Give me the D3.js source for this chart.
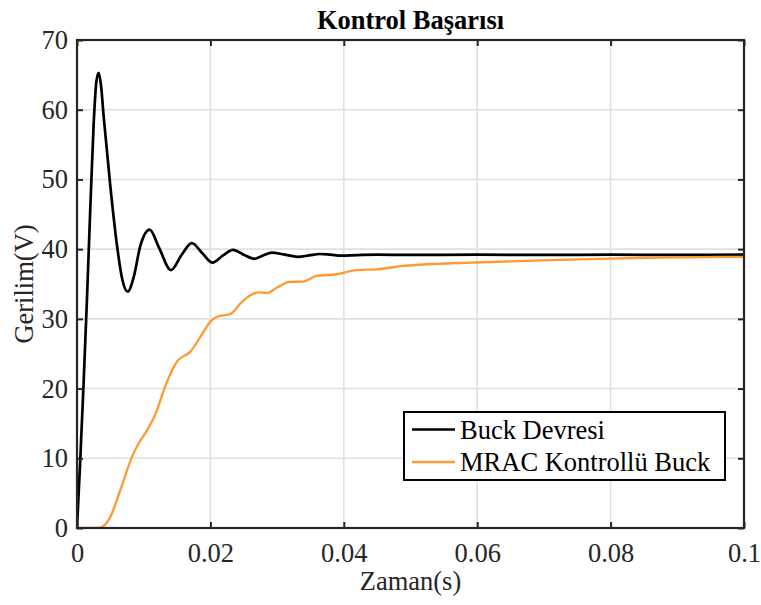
<!DOCTYPE html>
<html>
<head>
<meta charset="utf-8">
<script src="https://cdn.jsdelivr.net/npm/d3@7"></script>
<style>
  html, body { margin: 0; padding: 0; background: #fff; }
  svg { display: block; }
  svg text { font-family: "Liberation Serif", "Times New Roman", serif; }
</style>
</head>
<body>
<svg id="chart" width="761" height="605"></svg>
<script>
// Output voltage of the plain buck converter (time in s, voltage in V)
const buckT = [0, 0.0005, 0.001, 0.0015, 0.002, 0.0025, 0.0029, 0.00325, 0.0036, 0.004, 0.005, 0.006, 0.0068, 0.0076,
  0.0085, 0.0095, 0.0109, 0.0123, 0.0141, 0.0157, 0.0172, 0.0188, 0.0203, 0.0219, 0.0234, 0.025, 0.0266, 0.0279,
  0.0292, 0.031, 0.0331, 0.0348, 0.0364, 0.038, 0.0397, 0.042, 0.045, 0.05, 0.06, 0.07, 0.08, 0.09, 0.1];
const buckV = [0, 10, 21, 33, 46, 58, 64, 65.3, 63.5, 59, 49, 40.5, 35.6, 33.9,
  36, 40.5, 42.8, 40.2, 37.0, 39.2, 40.85, 39.4, 38.06, 39.1, 39.9, 39.2, 38.6, 39.1,
  39.5, 39.25, 38.9, 39.1, 39.3, 39.2, 39.07, 39.15, 39.2, 39.18, 39.2, 39.18, 39.2, 39.18, 39.2];

// Output voltage with the MRAC controller
const mracT = [0, 0.002, 0.0035, 0.004, 0.005, 0.0065, 0.00825, 0.00925, 0.0105, 0.0117, 0.0133, 0.015, 0.017,
  0.0185, 0.02, 0.021, 0.023, 0.0245, 0.026, 0.0272, 0.0285, 0.030, 0.0319, 0.0339, 0.0359, 0.0389, 0.0419,
  0.0449, 0.0489, 0.054, 0.059, 0.065, 0.0724, 0.08, 0.0874, 0.0935, 0.1];
const mracV = [0, 0, 0.05, 0.3, 1.6, 5.45, 10.2, 12.15, 14.0, 16.2, 20.5, 23.9, 25.3,
  27.4, 29.6, 30.3, 30.7, 32.2, 33.4, 33.8, 33.7, 34.5, 35.3, 35.35, 36.15, 36.4, 37.0,
  37.1, 37.6, 37.9, 38.06, 38.25, 38.45, 38.65, 38.8, 38.86, 38.9];

const xTicks = [0, 0.02, 0.04, 0.06, 0.08, 0.1];
const yTicks = [0, 10, 20, 30, 40, 50, 60, 70];

const seriesNames = ["Buck Devresi", "MRAC Kontrollü Buck"];
const seriesColors = ["#000000", "#ff9933"];

const FONT = "Liberation Serif";
const FS = 26.5;
const margin = { left: 77, top: 40, right: 761 - 744, bottom: 605 - 528 };
const W = 761, H = 605;
const svg = d3.select("#chart");

const x = d3.scaleLinear().domain([0, 0.1]).range([margin.left, W - margin.right]);
const y = d3.scaleLinear().domain([0, 70]).range([H - margin.bottom, margin.top]);

// Grid
const grid = svg.append("g").attr("stroke", "#e0e0e0").attr("stroke-width", 1.6);
grid.selectAll(".gx").data(xTicks.slice(1, -1)).join("line")
  .attr("x1", d => x(d)).attr("x2", d => x(d))
  .attr("y1", y(0)).attr("y2", y(70));
grid.selectAll(".gy").data(yTicks.slice(1, -1)).join("line")
  .attr("x1", x(0)).attr("x2", x(0.1))
  .attr("y1", d => y(d)).attr("y2", d => y(d));

// Lines
svg.append("clipPath").attr("id", "plotclip").append("rect")
  .attr("x", x(0)).attr("y", y(70)).attr("width", x(0.1) - x(0)).attr("height", y(0) - y(70));

const line = d3.line().x(d => x(d[0])).y(d => y(d[1])).curve(d3.curveMonotoneX);
const mracData = mracT.map((t, i) => [t, mracV[i]]);
const buckData = buckT.map((t, i) => [t, buckV[i]]);

const lines = svg.append("g").attr("clip-path", "url(#plotclip)").attr("fill", "none")
  .attr("stroke-linejoin", "round").attr("stroke-linecap", "round");
lines.append("path").datum(buckData).attr("d", line)
  .attr("stroke", seriesColors[0]).attr("stroke-width", 2.7);
lines.append("path").datum(mracData).attr("d", line)
  .attr("stroke", seriesColors[1]).attr("stroke-width", 2.3);

// Axes: inward ticks on all four sides, box frame
const tickLen = 6;
const axisColor = "#262626";
const fmt = d => d === 0 ? "0" : String(+d.toFixed(2));

const styleAxis = g => {
  g.select(".domain").remove();
  g.attr("font-family", FONT).attr("font-size", FS);
  g.selectAll(".tick line").attr("stroke", axisColor).attr("stroke-width", 2);
  g.selectAll(".tick text").attr("fill", "#262626");
};

svg.append("g").attr("transform", `translate(0,${y(0)})`)
  .call(d3.axisBottom(x).tickValues(xTicks).tickSize(-tickLen).tickPadding(15).tickFormat(fmt))
  .call(styleAxis);
svg.append("g").attr("transform", `translate(0,${y(70)})`)
  .call(d3.axisTop(x).tickValues(xTicks).tickSize(-tickLen).tickFormat(""))
  .call(styleAxis);
svg.append("g").attr("transform", `translate(${x(0)},0)`)
  .call(d3.axisLeft(y).tickValues(yTicks).tickSize(-tickLen).tickPadding(9))
  .call(styleAxis);
svg.append("g").attr("transform", `translate(${x(0.1)},0)`)
  .call(d3.axisRight(y).tickValues(yTicks).tickSize(-tickLen).tickFormat(""))
  .call(styleAxis);

svg.append("rect")
  .attr("x", x(0)).attr("y", y(70)).attr("width", x(0.1) - x(0)).attr("height", y(0) - y(70))
  .attr("fill", "none").attr("stroke", axisColor).attr("stroke-width", 2.2);

// Title and axis labels
svg.append("text").attr("x", (x(0) + x(0.1)) / 2).attr("y", 29)
  .attr("text-anchor", "middle").attr("font-weight", "bold").attr("font-size", FS)
  .attr("font-family", FONT).attr("fill", "#000").text("Kontrol Başarısı");
svg.append("text").attr("x", (x(0) + x(0.1)) / 2).attr("y", 590)
  .attr("text-anchor", "middle").attr("font-size", FS).attr("font-family", FONT)
  .attr("fill", "#262626").text("Zaman(s)");
svg.append("text").attr("transform", `translate(33,${(y(0) + y(70)) / 2}) rotate(-90)`)
  .attr("text-anchor", "middle").attr("font-size", FS).attr("font-family", FONT)
  .attr("fill", "#262626").text("Gerilim(V)");

// Legend
const legend = svg.append("g");
legend.append("rect").attr("x", 404).attr("y", 412).attr("width", 321).attr("height", 68)
  .attr("fill", "#fff").attr("stroke", "#000").attr("stroke-width", 2);
seriesNames.forEach((name, i) => {
  const ly = 429.5 + i * 32.5;
  legend.append("line").attr("x1", 412).attr("x2", 455).attr("y1", ly).attr("y2", ly)
    .attr("stroke", seriesColors[i]).attr("stroke-width", i === 0 ? 2.7 : 2.3);
  legend.append("text").attr("x", 460).attr("y", ly + 9).attr("font-size", FS)
    .attr("font-family", FONT).attr("fill", "#000").text(name);
});
</script>
</body>
</html>
